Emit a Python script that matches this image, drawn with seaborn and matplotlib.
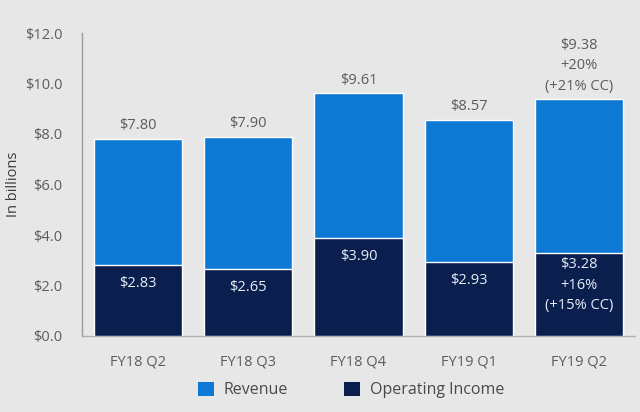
import matplotlib
matplotlib.use("Agg")
import matplotlib.pyplot as plt
import seaborn as sns
import pandas as pd
from matplotlib.patches import Patch

quarters = ["FY18 Q2", "FY18 Q3", "FY18 Q4", "FY19 Q1", "FY19 Q2"]
revenue = [7.80, 7.90, 9.61, 8.57, 9.38]
operating_income = [2.83, 2.65, 3.90, 2.93, 3.28]
revenue_labels = ["$7.80", "$7.90", "$9.61", "$8.57", "$9.38\n+20%\n(+21% CC)"]
income_labels = ["$2.83", "$2.65", "$3.90", "$2.93", "$3.28\n+16%\n(+15% CC)"]
y_ticks = [0, 2, 4, 6, 8, 10, 12]
y_tick_labels = ["$0.0", "$2.0", "$4.0", "$6.0", "$8.0", "$10.0", "$12.0"]

df = pd.DataFrame({"quarter": quarters, "revenue": revenue, "income": operating_income})

BG = "#e7e7e7"
REV = "#0e78d5"
INC = "#0a1f4d"
GREY = "#5c5c5c"

sns.set_theme(style="white")
plt.rcParams["font.family"] = ["Open Sans", "DejaVu Sans"]

fig = plt.figure(figsize=(6.4, 4.12), dpi=100, facecolor=BG)
ax = fig.add_axes([82/640, 1-336/412, (635-82)/640, (336-33)/412])
ax.set_facecolor(BG)

sns.barplot(data=df, x="quarter", y="revenue", color=REV, width=0.8,
            saturation=1, ax=ax, zorder=2)
sns.barplot(data=df, x="quarter", y="income", color=INC, width=0.8,
            saturation=1, ax=ax, zorder=3)

ax.set_xlim(-0.51, 4.51)
ax.set_ylim(0, 12)
ax.set_yticks(y_ticks)
ax.set_yticklabels(y_tick_labels)
ax.tick_params(axis="y", length=0, pad=14, labelsize=10.5, labelcolor=GREY)
ax.tick_params(axis="x", length=0, pad=13, labelsize=10.5, labelcolor=GREY)
ax.set_xlabel("")
ax.set_ylabel("In billions", fontsize=10.5, color="#3a3a3a")
ax.yaxis.set_label_coords((21 - 82) / 553, 0.5)

for s in ["top", "right"]:
    ax.spines[s].set_visible(False)
ax.spines["left"].set_color("#9a9a9a")
ax.spines["bottom"].set_color("#b0b0b0")
ax.spines["left"].set_linewidth(1.0)
ax.spines["bottom"].set_linewidth(1.0)

for i, (v, lab) in enumerate(zip(revenue, revenue_labels)):
    ax.annotate(lab, xy=(i, v), xytext=(0, 4), textcoords="offset points",
                ha="center", va="bottom", fontsize=10.5, color=GREY,
                linespacing=1.5, zorder=5)

for i, (v, lab) in enumerate(zip(operating_income, income_labels)):
    multi = "\n" in lab
    ax.annotate(lab, xy=(i, v), xytext=(0, -3 if multi else -8),
                textcoords="offset points", ha="center", va="top",
                fontsize=10.5, color="#e8eef8", linespacing=1.5, zorder=5)

handles = [Patch(facecolor=REV, edgecolor="none", label="Revenue"),
           Patch(facecolor=INC, edgecolor="none", label="Operating Income")]
fig.legend(handles=handles, loc="center", bbox_to_anchor=(351/640, 1-390/412),
           ncol=2, frameon=False, fontsize=11.5, handlelength=1.0,
           handleheight=1.0, handletextpad=0.6, columnspacing=3.5,
           labelcolor="#4a4a4a")

fig.savefig("out.png", dpi=100, facecolor=BG)
